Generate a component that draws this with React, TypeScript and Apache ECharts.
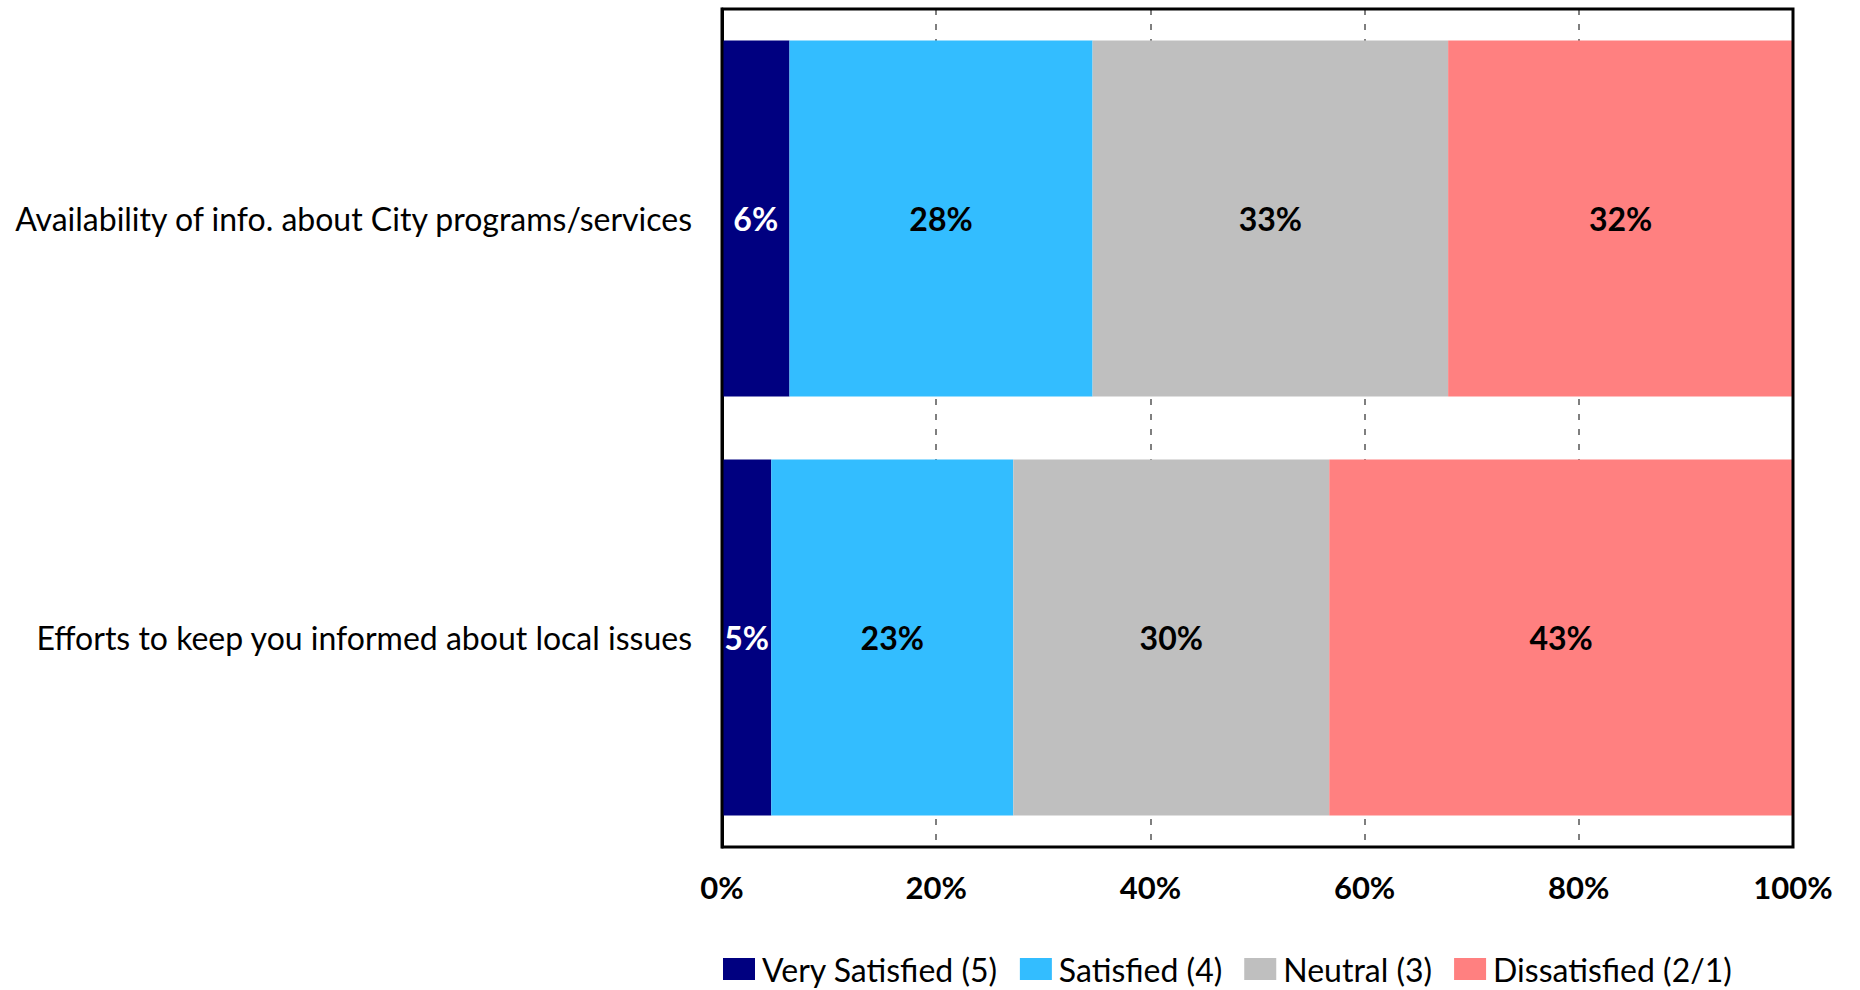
import React, { useEffect, useRef } from "react";
import * as echarts from "echarts";

const categories = [
  "Availability of info. about City programs/services",
  "Efforts to keep you informed about local issues",
];
const seriesNames = ["Very Satisfied (5)", "Satisfied (4)", "Neutral (3)", "Dissatisfied (2/1)"];
const verySatisfied = [6.3, 4.6];
const satisfied = [28.3, 22.6];
const neutral = [33.2, 29.5];
const dissatisfied = [32.2, 43.3];
const xTicks = [0, 20, 40, 60, 80, 100];

const colors = ["#000080", "#33BDFF", "#BFBFBF", "#FF8080"];
const labelColors = ["#FFFFFF", "#000000", "#000000", "#000000"];
const FONT = "Lato";

export default function App() {
  const ref = useRef<HTMLDivElement>(null);
  useEffect(() => {
    if (!ref.current) return;
    const chart = echarts.init(ref.current, null, { renderer: "svg" });
    const values = [verySatisfied, satisfied, neutral, dissatisfied];
    chart.setOption({
      animation: false,
      backgroundColor: "#FFFFFF",
      textStyle: { fontFamily: FONT },
      grid: {
        left: 722,
        right: 67,
        top: 9,
        bottom: 143,
        show: true,
        borderColor: "#000000",
        borderWidth: 3,
        backgroundColor: "transparent",
        z: 10,
      },
      legend: {
        left: 723,
        top: 953,
        padding: 0,
        itemWidth: 32,
        itemHeight: 22,
        itemGap: 22,
        icon: "rect",
        textStyle: { fontFamily: FONT, fontSize: 32, color: "#000000", padding: [0, 0, 0, 2] },
        data: seriesNames,
      },
      xAxis: {
        type: "value",
        min: xTicks[0],
        max: xTicks[xTicks.length - 1],
        interval: 20,
        axisLine: { show: false },
        axisTick: { show: false },
        axisLabel: {
          formatter: "{value}%",
          fontFamily: FONT,
          fontWeight: "bold",
          fontSize: 31,
          color: "#000000",
          margin: 24,
        },
        splitLine: {
          show: true,
          lineStyle: { color: "#555555", width: 1.5, type: [6, 9] },
        },
      },
      yAxis: {
        type: "category",
        data: categories,
        inverse: true,
        axisLine: { show: true, lineStyle: { color: "#000000", width: 3 } },
        axisTick: { show: false },
        axisLabel: {
          fontFamily: FONT,
          fontSize: 32,
          color: "#000000",
          margin: 30,
        },
      },
      series: seriesNames.map((name, i) => ({
        name,
        type: "bar",
        stack: "total",
        barCategoryGap: "15%",
        data: values[i],
        itemStyle: { color: colors[i] },
        label: {
          show: true,
          position: "inside",
          formatter: (p: any) => Math.round(p.value) + "%",
          fontFamily: FONT,
          fontWeight: "bold",
          fontSize: 32,
          color: labelColors[i],
        },
      })),
    });
    return () => chart.dispose();
  }, []);
  return (
    <div
      ref={ref}
      style={{ position: "fixed", left: 0, top: 0, width: 1860, height: 990 }}
    />
  );
}
